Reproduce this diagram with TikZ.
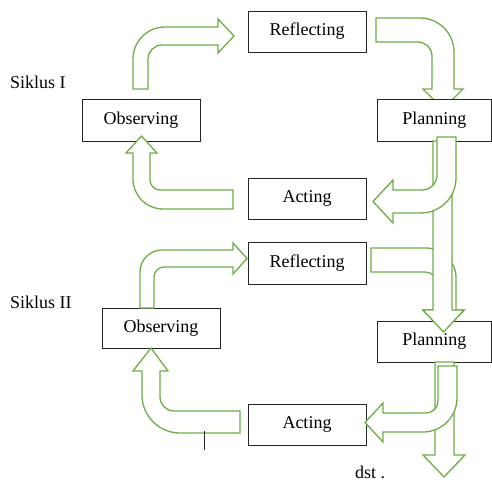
\documentclass[tikz,border=0pt]{standalone}
\usepackage{fontspec}
\setmainfont{Liberation Serif}
\definecolor{arrgreen}{RGB}{112,173,71}
\begin{document}
\begin{tikzpicture}[x=1pt,y=-1pt,
  box/.style={draw=black!85, line width=0.9pt, fill=white, rectangle, inner sep=0pt,
    font=\fontsize{18}{20}\selectfont},
  blockarrow/.style={draw=arrgreen, line width=1.3pt, fill=white, line join=miter},
  lbl/.style={inner sep=0pt, anchor=base west, font=\fontsize{18}{20}\selectfont}]
\useasboundingbox (0,0) rectangle (492,481);
\fill[white] (0,0) rectangle (492,481);

% arrows behind the boxes
% Reflecting I -> Planning I
\path[blockarrow] (376,18) -- (420,18) .. controls (438.8,18) and (454,33.2) .. (454,52)
  -- (454,89) -- (463,89) -- (443,109) -- (423,89) -- (432,89) -- (432,56)
  .. controls (432,48.3) and (425.7,42) .. (418,42) -- (376,42) -- cycle;
% Reflecting II -> Planning II (merged)
\path[blockarrow] (371,248) -- (426,248) .. controls (442.6,248) and (456,261.4) .. (456,278)
  -- (456,310) -- (464,310) -- (443.5,332) -- (423,310) -- (437,310) -- (437,284)
  .. controls (437,277.4) and (431.6,272) .. (425,272) -- (371,272) -- cycle;

% boxes
\node[box, minimum width=118pt, minimum height=41pt] (refl1) at (307,31.5) {Reflecting};
\node[box, minimum width=114.5pt, minimum height=42pt] (plan1) at (434.25,120) {Planning};
\node[box, minimum width=118pt, minimum height=42pt] (obs1) at (141,120) {Observing};
\node[box, minimum width=118pt, minimum height=41pt] (act1) at (307,198.5) {Acting};
\node[box, minimum width=118pt, minimum height=42pt] (refl2) at (307,263) {Reflecting};
\node[box, minimum width=118pt, minimum height=40pt] (obs2) at (161,328) {Observing};
\node[box, minimum width=114.5pt, minimum height=41pt] (plan2) at (434.25,341.5) {Planning};
\node[box, minimum width=118pt, minimum height=41pt] (act2) at (307,424.5) {Acting};

% Planning I -> Planning II (straight)
\path[blockarrow] (433,141) -- (452,141) -- (452,310) -- (464,310) -- (443.5,332)
  -- (423,310) -- (433,310) -- cycle;
% Planning I -> Acting I
\path[blockarrow] (437,137) -- (456,137) -- (456,178) .. controls (456,197.3) and (440.3,213) .. (421,213)
  -- (393,213) -- (393,223) -- (373,201.5) -- (393,180) -- (393,190) -- (422,190)
  .. controls (430.3,190) and (437,183.3) .. (437,175) -- cycle;
% Planning II -> down
\path[blockarrow] (435,362) -- (454,362) -- (454,455) -- (465,455) -- (444,477)
  -- (423,455) -- (435,455) -- cycle;
% Planning II -> Acting II
\path[blockarrow] (438,366) -- (457,366) -- (457,398) .. controls (457,416.8) and (441.8,432) .. (423,432)
  -- (383,432) -- (383,442) -- (365,422.5) -- (383,403) -- (383,413) -- (426,413)
  .. controls (432.6,413) and (438,407.6) .. (438,401) -- cycle;
% Observing I -> Reflecting I
\path[blockarrow] (133,89) -- (133,59) .. controls (133,41.3) and (147.3,27) .. (165,27)
  -- (218,27) -- (218,19) -- (234,36) -- (218,53) -- (218,45) -- (162,45)
  .. controls (154.3,45) and (148,51.3) .. (148,59) -- (148,89) -- cycle;
% Acting I -> Observing I
\path[blockarrow] (233,190) -- (160,190) .. controls (154.5,190) and (150,185.5) .. (150,180)
  -- (150,153) -- (157,153) -- (141.5,136) -- (126,153) -- (133,153) -- (133,179)
  .. controls (133,195.6) and (146.4,209) .. (163,209) -- (233,209) -- cycle;
% Observing II -> Reflecting II
\path[blockarrow] (140,308) -- (140,272) .. controls (140,259.9) and (149.9,250) .. (162,250)
  -- (233,250) -- (233,243) -- (247,258.5) -- (233,274) -- (233,267) -- (164,267)
  .. controls (158.5,267) and (154,271.5) .. (154,277) -- (154,308) -- cycle;
% Acting II -> Observing II
\path[blockarrow] (240,411) -- (174,411) .. controls (166.3,411) and (160,404.7) .. (160,397)
  -- (160,371) -- (168,371) -- (151,348) -- (133,371) -- (142,371) -- (142,395)
  .. controls (142,416) and (159,433) .. (180,433) -- (240,433) -- cycle;

% small tick
\draw[black!85, line width=0.9pt] (204,431) -- (204,450);

% labels
\node[lbl] (s1) at (10,89) {Siklus I};
\node[lbl] (s2) at (10,308) {Siklus II};
\node[lbl] (dst) at (355,478) {dst .};
\end{tikzpicture}
\end{document}
